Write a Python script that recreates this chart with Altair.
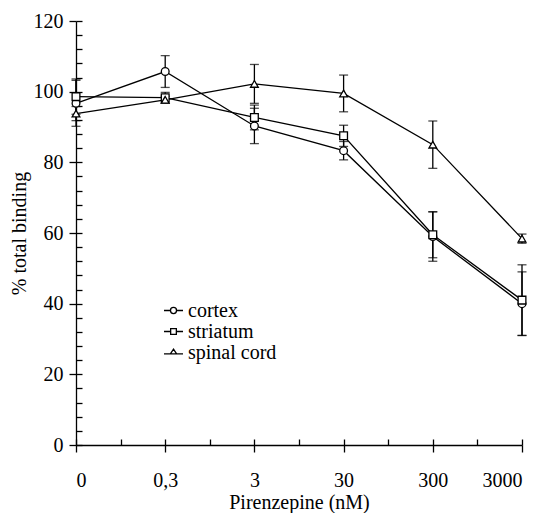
import json
import altair as alt
import pandas as pd

# Pirenzepine concentrations (nM), drawn at equal spacing
conc_labels = ["0", "0,3", "3", "30", "300", "3000"]

series_names = ["cortex", "striatum", "spinal cord"]
cortex = [96.7, 105.7, 90.3, 83.3, 59.0, 40.0]
cortex_err = [6.5, 4.5, 5.0, 2.6, 7.0, 9.0]
striatum = [98.6, 98.3, 92.7, 87.5, 59.5, 41.0]
striatum_err = [5.0, 1.5, 3.5, 3.0, 6.5, 10.0]
spinal = [93.8, 97.7, 102.2, 99.5, 85.0, 58.4]
spinal_err = [2.0, 1.0, 5.5, 5.2, 6.7, 1.3]

rows = []
for name, vals, errs in [("cortex", cortex, cortex_err),
                         ("striatum", striatum, striatum_err),
                         ("spinal cord", spinal, spinal_err)]:
    for i, (v, e) in enumerate(zip(vals, errs)):
        rows.append({"idx": i, "series": name, "value": v,
                     "lo": v - e, "hi": v + e})
df = pd.DataFrame(rows)

W, H = 446, 424
FONT = "'Times New Roman', 'Liberation Serif', Times, serif"
label_expr = json.dumps(conc_labels) + "[datum.value]"

x_dom = alt.Scale(domain=[0, 5], nice=False, zero=False)
y_dom = alt.Scale(domain=[0, 120], nice=False)

base = alt.Chart(df)

# connecting lines with the labelled axes
lines = base.mark_line(color="black", strokeWidth=1.3).encode(
    x=alt.X("idx:Q", scale=x_dom, axis=alt.Axis(
        values=list(range(6)), labelExpr=label_expr, title="Pirenzepine (nM)",
        grid=False, tickSize=7, tickWidth=1.3, tickColor="black",
        domainColor="black", domainWidth=1.3,
        labelFont=FONT, labelFontSize=20, labelColor="black", labelPadding=18,
        titleFont=FONT, titleFontSize=20, titleFontWeight="normal",
        titleColor="black", titlePadding=2)),
    y=alt.Y("value:Q", scale=y_dom, axis=alt.Axis(
        values=list(range(0, 121, 20)), title="% total binding",
        grid=False, tickSize=7, tickWidth=1.3, tickColor="black",
        domainColor="black", domainWidth=1.3,
        labelFont=FONT, labelFontSize=20, labelColor="black", labelPadding=6,
        titleFont=FONT, titleFontSize=20, titleFontWeight="normal",
        titleColor="black", titlePadding=4)),
    detail="series:N",
)

# vertical error bars; this layer also carries the inward tick marks
err = base.mark_rule(color="black", strokeWidth=1.3).encode(
    x=alt.X("idx:Q", scale=x_dom, axis=alt.Axis(
        orient="top", offset=-H, values=[i * 0.5 for i in range(11)],
        labels=False, domain=False, grid=False, title=None,
        tickSize=6, tickWidth=1.3, tickColor="black")),
    y=alt.Y("lo:Q", scale=y_dom, axis=alt.Axis(
        orient="right", offset=-W, values=list(range(0, 121, 4)),
        labels=False, domain=False, grid=False, title=None,
        tickSize=6, tickWidth=1.3, tickColor="black")),
    y2="hi:Q",
)

cap_lo = base.mark_tick(color="black", thickness=1.3, size=9, orient="horizontal").encode(
    x=alt.X("idx:Q", scale=x_dom, axis=None),
    y=alt.Y("lo:Q", scale=y_dom, axis=None),
)
cap_hi = base.mark_tick(color="black", thickness=1.3, size=9, orient="horizontal").encode(
    x=alt.X("idx:Q", scale=x_dom, axis=None),
    y=alt.Y("hi:Q", scale=y_dom, axis=None),
)

points = base.mark_point(filled=True, fill="white", stroke="black",
                         strokeWidth=1.3, size=60, opacity=1).encode(
    x=alt.X("idx:Q", scale=x_dom, axis=None),
    y=alt.Y("value:Q", scale=y_dom, axis=None),
    shape=alt.Shape("series:N", sort=series_names, legend=None,
                    scale=alt.Scale(domain=series_names,
                                    range=["circle", "square", "triangle-up"])),
)

# legend glyphs: a short line through each open marker
legend_paths = [
    "M-1,0H-0.32M0.32,0H1M-0.32,0A0.32,0.32 0 1,1 0.32,0A0.32,0.32 0 1,1 -0.32,0Z",
    "M-1,0H-0.3M0.3,0H1M-0.3,-0.3H0.3V0.3H-0.3Z",
    "M-1,0.14H1M0,-0.36L0.33,0.14H-0.33Z",
]
legend_layer = base.mark_point(opacity=0).encode(
    x=alt.X("idx:Q", scale=x_dom, axis=None),
    y=alt.Y("value:Q", scale=y_dom, axis=None),
    shape=alt.Shape("series:N", sort=series_names,
                    scale=alt.Scale(domain=series_names, range=legend_paths),
                    legend=alt.Legend(
                        title=None, orient="none", legendX=87, legendY=279,
                        symbolSize=361, symbolStrokeWidth=1.3,
                        symbolStrokeColor="black", symbolFillColor="white",
                        symbolOpacity=1, labelFont=FONT, labelFontSize=20,
                        labelColor="black", labelOffset=4, rowPadding=0,
                        padding=0)),
)

chart = alt.layer(lines, err, cap_lo, cap_hi, points, legend_layer).resolve_axis(
    x="independent", y="independent"
).resolve_scale(shape="independent").properties(
    width=W, height=H,
    autosize=alt.AutoSizeParams(type="none"),
    padding={"left": 76, "top": 21, "right": 24, "bottom": 68},
).configure(
    background="white", font=FONT
).configure_view(
    stroke=None
).configure_axis(
    labelFont=FONT, titleFont=FONT
).configure_legend(
    labelFont=FONT
)

chart.save("out.html", embed_options={"renderer": "svg", "actions": False})
